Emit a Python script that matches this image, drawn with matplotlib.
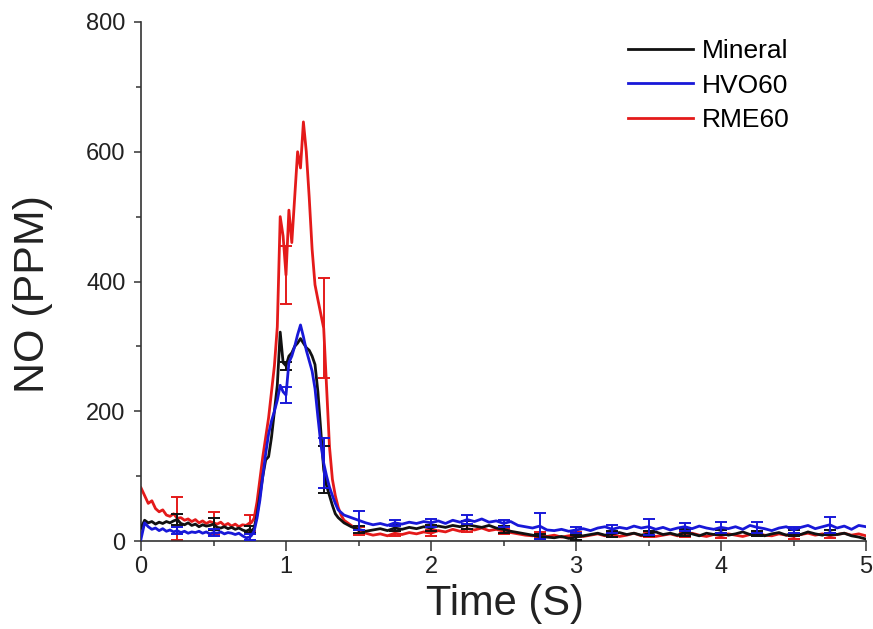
import numpy as np
import matplotlib.pyplot as plt
from matplotlib.ticker import MultipleLocator

plt.rcParams['font.family'] = ['Liberation Sans', 'DejaVu Sans']

# time grid (s): before injection, around the peak, tail
t_pre = np.round(np.arange(0, 0.751, 0.025), 3)
t_peak = np.round(np.arange(0.76, 1.401, 0.02), 3)
t_tail = np.round(np.arange(1.45, 5.001, 0.05), 3)
time = np.concatenate([t_pre, t_peak, t_tail])

# NO (ppm)
mineral = np.array(
    [20, 32, 28, 30, 26, 29, 27, 30, 28, 31, 33, 27, 25, 28, 24, 26, 22, 25, 23, 24, 26,
     21, 20, 22, 19, 21, 18, 20, 17, 15, 18] +
    [15, 20, 40, 70, 100, 125, 130, 160, 200, 240, 322, 275, 270, 285, 290, 300, 305,
     312, 305, 298, 294, 285, 272, 230, 170, 110, 85, 70, 55, 42, 36, 32, 28] +
    [22, 18, 15, 17, 19, 16, 20, 18, 21, 19, 22, 20, 23, 21, 24, 22, 25, 23, 21, 24,
     20, 18, 15, 13, 11, 9, 7, 6, 5, 7, 4, 6, 8, 10, 12, 9, 11, 13, 10, 12, 9, 11, 14,
     10, 12, 9, 13, 11, 8, 12, 10, 13, 9, 11, 14, 10, 12, 8, 11, 13, 9, 12, 10, 14, 11,
     9, 13, 10, 12, 8, 6, 3])

hvo60 = np.array(
    [3, 28, 22, 18, 20, 16, 19, 15, 17, 14, 16, 13, 15, 12, 14, 13, 15, 12, 14, 11, 13,
     12, 14, 11, 13, 12, 10, 12, 8, 5, 6] +
    [8, 15, 35, 63, 100, 135, 165, 185, 200, 217, 240, 230, 225, 275, 285, 300, 318,
     333, 315, 294, 278, 262, 235, 191, 150, 120, 100, 83, 70, 58, 48, 44, 40] +
    [36, 32, 28, 25, 27, 24, 28, 26, 29, 27, 30, 28, 31, 27, 32, 29, 33, 30, 34, 29,
     31, 27, 30, 24, 22, 20, 23, 17, 16, 18, 15, 17, 19, 16, 20, 22, 18, 21, 19, 23,
     20, 22, 18, 21, 17, 20, 22, 19, 23, 20, 18, 21, 19, 22, 18, 24, 21, 19, 16, 20,
     22, 17, 21, 24, 19, 22, 25, 20, 23, 18, 24, 22])

rme60 = np.array(
    [82, 70, 58, 62, 50, 45, 48, 40, 38, 42, 35, 36, 32, 34, 30, 33, 28, 31, 27, 30, 28,
     26, 29, 24, 27, 23, 26, 22, 25, 24, 28] +
    [28, 35, 60, 95, 130, 160, 190, 230, 270, 330, 500, 470, 410, 510, 460, 530, 600,
     575, 646, 600, 530, 450, 395, 372, 350, 328, 235, 145, 95, 70, 52, 40, 32] +
    [24, 16, 12, 9, 11, 8, 12, 10, 13, 11, 14, 12, 16, 14, 18, 15, 19, 17, 20, 16, 18,
     15, 13, 11, 9, 8, 10, 7, 9, 6, 8, 10, 7, 9, 11, 8, 10, 7, 9, 12, 8, 10, 7, 9, 11,
     8, 10, 12, 9, 7, 10, 8, 11, 9, 7, 10, 12, 9, 8, 11, 9, 7, 10, 12, 9, 11, 8, 10, 12,
     9, 11, 8])

# error bars (drawn at every few points)
err_t = [0.25, 0.5, 0.75, 1.0, 1.26, 1.5, 1.75, 2.0, 2.25, 2.5, 2.75, 3.0, 3.25, 3.5,
         3.75, 4.0, 4.25, 4.5, 4.75]
mineral_err = [8, 9, 5, 6, 36, 5, 4, 5, 6, 5, 4, 4, 5, 4, 5, 4, 4, 5, 4]
hvo60_err = [5, 6, 5, 12, 38, 15, 5, 6, 7, 6, 20, 5, 6, 12, 6, 8, 8, 5, 12]
rme60_err = [33, 17, 12, 45, 77, 6, 4, 5, 5, 4, 4, 4, 4, 4, 4, 4, 4, 4, 4]

series = [('Mineral', mineral, mineral_err, '#111111', 3),
          ('HVO60', hvo60, hvo60_err, '#1818d8', 4),
          ('RME60', rme60, rme60_err, '#e41a1a', 2)]

fig = plt.figure(figsize=(8.73, 6.29), dpi=100)
ax = fig.add_axes([141 / 873, 1 - 541 / 629, 725 / 873, 519 / 629])

idx = [int(np.argmin(np.abs(time - t))) for t in err_t]
handles = []
for name, y, err, col, z in series:
    line, = ax.plot(time, y, color=col, lw=2.0, zorder=z, label=name)
    ax.errorbar(time[idx], y[idx], yerr=err, fmt='none', ecolor=col, elinewidth=1.4,
                capsize=4, capthick=1.4, zorder=z)
    handles.append(line)

ax.set_xlim(0, 5)
ax.set_ylim(0, 800)
ax.xaxis.set_major_locator(MultipleLocator(1))
ax.xaxis.set_minor_locator(MultipleLocator(0.5))
ax.yaxis.set_major_locator(MultipleLocator(200))
ax.yaxis.set_minor_locator(MultipleLocator(100))

for s in ['top', 'right']:
    ax.spines[s].set_visible(False)
for s in ['left', 'bottom']:
    ax.spines[s].set_linewidth(1.2)
    ax.spines[s].set_color('#333333')

ax.tick_params(axis='x', which='major', direction='out', length=7, width=1.1,
               color='#333333', labelsize=17, pad=4, labelcolor='#222222')
ax.tick_params(axis='x', which='minor', direction='out', length=3.5, width=1.1,
               color='#333333')
ax.tick_params(axis='y', which='major', direction='out', length=5, width=1.1,
               color='#333333', labelsize=17, pad=6, labelcolor='#222222')
ax.tick_params(axis='y', which='minor', direction='out', length=3.5, width=1.1,
               color='#333333')

ax.set_xlabel('Time (S)', fontsize=30, color='#222222')
ax.set_ylabel('NO (PPM)', fontsize=31, color='#222222')
ax.xaxis.set_label_coords(0.502, -0.083)
ax.yaxis.set_label_coords(-0.122, 0.476)

ax.legend(handles=handles, loc='upper left', bbox_to_anchor=(628 / 873, 1 - 39 / 629),
          bbox_transform=fig.transFigure, frameon=False, fontsize=19,
          handlelength=2.45, handletextpad=0.35, labelspacing=0.4, borderpad=0,
          borderaxespad=0)

plt.savefig('out.png', dpi=100)
